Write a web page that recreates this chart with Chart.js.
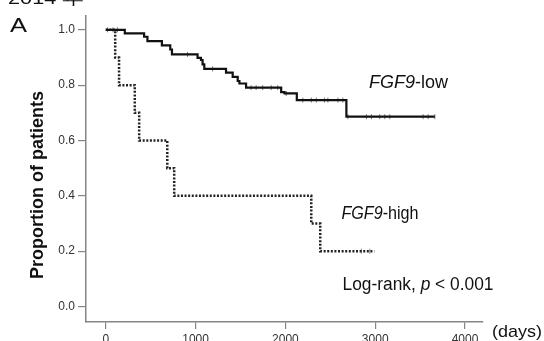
<!DOCTYPE html>
<html>
<head>
<meta charset="utf-8">
<script src="https://cdn.jsdelivr.net/npm/chart.js@4.4.1/dist/chart.umd.min.js"></script>
<style>
  body { margin: 0; background: #fff; }
  canvas { display: block; }
</style>
</head>
<body>
<canvas id="km" width="544" height="341"></canvas>
<script>
// Kaplan-Meier curves (days, proportion surviving)
const lowDays = [0, 212, 427, 464, 625, 718, 737, 1022, 1060, 1078, 1097, 1339, 1413, 1469, 1488, 1562, 1953, 1990, 2127, 2679, 3664];
const lowSurv = [1.0, 0.987, 0.975, 0.959, 0.944, 0.929, 0.911, 0.899, 0.891, 0.875, 0.859, 0.845, 0.830, 0.815, 0.806, 0.791, 0.775, 0.770, 0.746, 0.686, 0.686];
const lowCensorDays = [20, 80, 130, 911, 1190, 1618, 1674, 1748, 1842, 1915, 2009, 2194, 2288, 2344, 2436, 2473, 2585, 2640, 2696, 2902, 2958, 3050, 3106, 3162, 3533, 3589, 3664];
const lowCensorSurv = [1.0, 1.0, 1.0, 0.911, 0.859, 0.791, 0.791, 0.791, 0.791, 0.791, 0.770, 0.746, 0.746, 0.746, 0.746, 0.746, 0.746, 0.746, 0.686, 0.686, 0.686, 0.686, 0.686, 0.686, 0.686, 0.686, 0.686];

const highDays = [0, 105, 148, 323, 372, 685, 762, 2288, 2388, 2990];
const highSurv = [1.0, 0.9, 0.8, 0.7, 0.6, 0.5, 0.4, 0.3, 0.2, 0.2];
const highCensorDays = [2846, 2939];
const highCensorSurv = [0.2, 0.2];

const xTicks = [0, 1000, 2000, 3000, 4000];
const yTicks = [0.0, 0.2, 0.4, 0.6, 0.8, 1.0];

const pts = (xs, ys) => xs.map((x, i) => ({ x, y: ys[i] }));
const AXIS = '#858585';

// draws mixed italic/upright text squeezed or stretched to a target width
function fitText(ctx, parts, x, y, size, width, weight) {
  ctx.save();
  let total = 0;
  const fonts = parts.map(p => `${p.i ? 'italic ' : ''}${weight || ''} ${size}px "Liberation Sans", Arial, sans-serif`);
  parts.forEach((p, k) => { ctx.font = fonts[k]; total += ctx.measureText(p.t).width; });
  ctx.translate(x, y);
  ctx.scale(width / total, 1);
  let cx = 0;
  parts.forEach((p, k) => {
    ctx.font = fonts[k];
    ctx.fillText(p.t, cx, 0);
    cx += ctx.measureText(p.t).width;
  });
  ctx.restore();
}

const labels = {
  id: 'labels',
  afterDraw(chart) {
    const ctx = chart.ctx;
    ctx.save();
    ctx.fillStyle = '#111';
    ctx.textBaseline = 'alphabetic';
    ctx.textAlign = 'left';
    fitText(ctx, [{ t: '2014 年' }], 8, 4, 17, 76);
    fitText(ctx, [{ t: 'A' }], 10, 32, 20, 17);
    fitText(ctx, [{ t: 'FGF9', i: true }, { t: '-low' }], 369, 88, 18, 79);
    fitText(ctx, [{ t: 'FGF9', i: true }, { t: '-high' }], 341.5, 219, 18, 77);
    fitText(ctx, [{ t: 'Log-rank, ' }, { t: 'p', i: true }, { t: ' < 0.001' }], 342.5, 290, 18, 151);
    fitText(ctx, [{ t: '(days)' }], 492, 337, 17, 50);

    ctx.translate(43, 185);
    ctx.rotate(-Math.PI / 2);
    ctx.font = 'bold 18px "Liberation Sans", Arial, sans-serif';
    ctx.textAlign = 'center';
    ctx.fillText('Proportion of patients', 0, 0);
    ctx.restore();
  }
};

new Chart(document.getElementById('km'), {
  type: 'scatter',
  data: {
    datasets: [
      {
        data: pts(lowDays, lowSurv),
        showLine: true, stepped: true,
        borderColor: '#111', borderWidth: 2.2,
        pointRadius: 0,
      },
      {
        data: pts(highDays, highSurv),
        showLine: true, stepped: true,
        borderColor: '#222', borderWidth: 2.5, borderDash: [2, 1.6],
        pointRadius: 0,
      },
      {
        data: pts(lowCensorDays, lowCensorSurv),
        pointStyle: 'line', rotation: 90, pointRadius: 2.5,
        borderColor: '#777', borderWidth: 1,
      },
      {
        data: pts(highCensorDays, highCensorSurv),
        pointStyle: 'line', rotation: 90, pointRadius: 2.5,
        borderColor: '#888', borderWidth: 1,
      },
    ],
  },
  options: {
    responsive: false,
    animation: false,
    layout: { padding: { top: 16, right: 61, bottom: 0, left: 0 } },
    plugins: { legend: { display: false }, tooltip: { enabled: false } },
    scales: {
      x: {
        type: 'linear', min: -220, max: 4200,
        afterBuildTicks: s => { s.ticks = xTicks.map(v => ({ value: v })); },
        afterFit: s => { s.height = 19; },
        grid: { drawOnChartArea: false, tickLength: 7, color: AXIS, lineWidth: 1.2 },
        border: { color: AXIS, width: 1.5 },
        ticks: { color: '#333', font: { size: 12, family: '"Liberation Sans", Arial' }, padding: 3, maxRotation: 0, callback: v => String(v) },
      },
      y: {
        type: 'linear', min: -0.056, max: 1.05,
        afterBuildTicks: s => { s.ticks = yTicks.map(v => ({ value: v })); },
        afterFit: s => { s.width = 86; },
        grid: { drawOnChartArea: false, tickLength: 8, color: AXIS, lineWidth: 1.2 },
        border: { color: AXIS, width: 1.5 },
        ticks: { color: '#333', font: { size: 12, family: '"Liberation Sans", Arial' }, padding: 3, callback: v => v.toFixed(1) },
      },
    },
  },
  plugins: [labels],
});
</script>
</body>
</html>
